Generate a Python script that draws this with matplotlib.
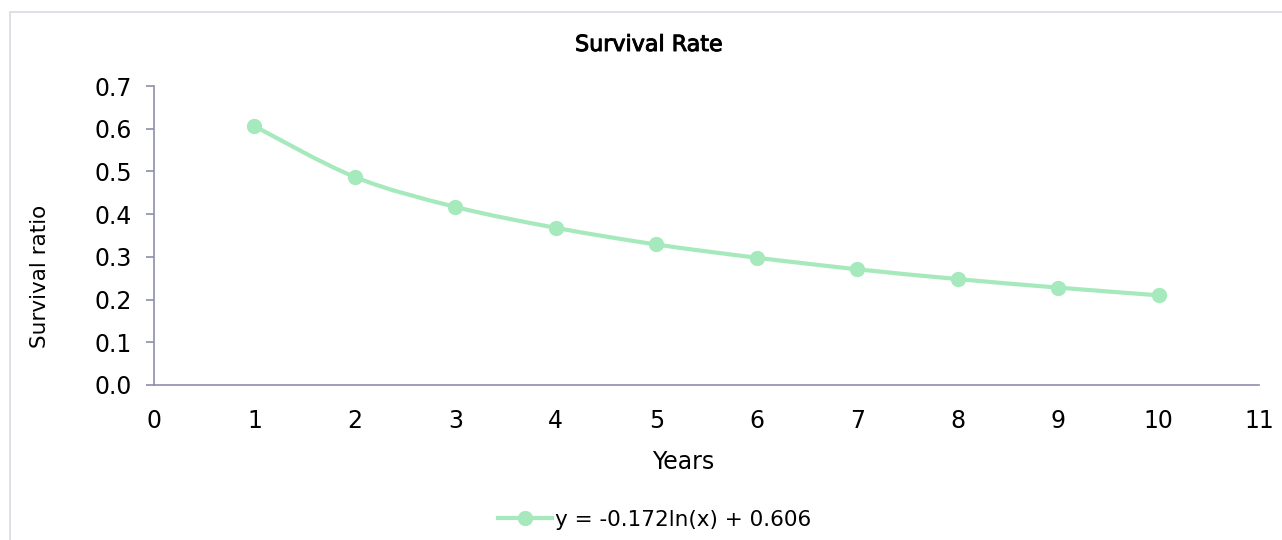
import matplotlib
matplotlib.use("Agg")
import matplotlib.pyplot as plt
import matplotlib.patheffects as pe
import numpy as np
from matplotlib.path import Path
from matplotlib.patches import PathPatch, Rectangle
from matplotlib.lines import Line2D

years = [1, 2, 3, 4, 5, 6, 7, 8, 9, 10]
survival = [0.606, 0.487, 0.417, 0.368, 0.329, 0.298, 0.271, 0.248, 0.228, 0.210]
series_label = "y = -0.172ln(x) + 0.606"
title = "Survival Rate"
xlabel = "Years"
ylabel = "Survival ratio"

plt.rcParams['font.family'] = ['DejaVu Sans']
line_color = "#a6e9bc"
spine_color = "#8e8eab"

fig = plt.figure(figsize=(12.82, 5.40), dpi=100)
fig.patches.append(Rectangle((10/1282, -0.1), 1.2, (540-12)/540 + 0.1, transform=fig.transFigure,
                             fill=False, edgecolor="#d9d9e0", linewidth=1.2))
ax = fig.add_axes([154/1282, 1-385/540, (1259-154)/1282, (385-86)/540])
ax.set_xlim(0, 11)
ax.set_ylim(0, 0.7)

# smooth curve (Catmull-Rom style bezier through the data points)
x = np.array(years, float); y = np.array(survival, float)
verts = [(x[0], y[0])]; codes = [Path.MOVETO]
t = 1/6
for i in range(len(x)-1):
    p0 = (x[i-1], y[i-1]) if i > 0 else (x[i], y[i])
    p1 = (x[i], y[i]); p2 = (x[i+1], y[i+1])
    p3 = (x[i+2], y[i+2]) if i+2 < len(x) else p2
    c1 = (p1[0] + (p2[0]-p0[0])*t, p1[1] + (p2[1]-p0[1])*t)
    c2 = (p2[0] - (p3[0]-p1[0])*t, p2[1] - (p3[1]-p1[1])*t)
    verts += [c1, c2, p2]; codes += [Path.CURVE4]*3
ax.add_patch(PathPatch(Path(verts, codes), fill=False, edgecolor=line_color, linewidth=3, capstyle='round'))
ax.plot(years, survival, linestyle='none', marker='o', markersize=10, color=line_color)

for s in ['top', 'right']:
    ax.spines[s].set_visible(False)
for s in ['left', 'bottom']:
    ax.spines[s].set_color(spine_color)
    ax.spines[s].set_linewidth(1.2)
ax.set_xticks(range(0, 12))
ax.set_yticks(np.arange(0, 0.71, 0.1))
ax.set_yticklabels([f"{v:.1f}" for v in np.arange(0, 0.71, 0.1)])
ax.tick_params(axis='x', length=0, pad=17, labelsize=17)
ax.tick_params(axis='y', length=6, width=1.2, color=spine_color, pad=10, labelsize=17)

fig.text(649/1282, 1-45/540, title, ha='center', va='center', fontsize=16,
         path_effects=[pe.withStroke(linewidth=0.7, foreground='black')])
fig.text(683/1282, 1-462/540, xlabel, ha='center', va='center', fontsize=17)
fig.text(40/1282, 1-276/540, ylabel, ha='center', va='center', fontsize=15.5, rotation=90)

handle = Line2D([], [], color=line_color, linewidth=3, marker='o', markersize=10)
fig.legend([handle], [series_label], loc='center', bbox_to_anchor=(655/1282, 1-520/540),
           frameon=False, fontsize=15.5, handlelength=2.5, handletextpad=0.15)

fig.savefig("out.png", dpi=100)
